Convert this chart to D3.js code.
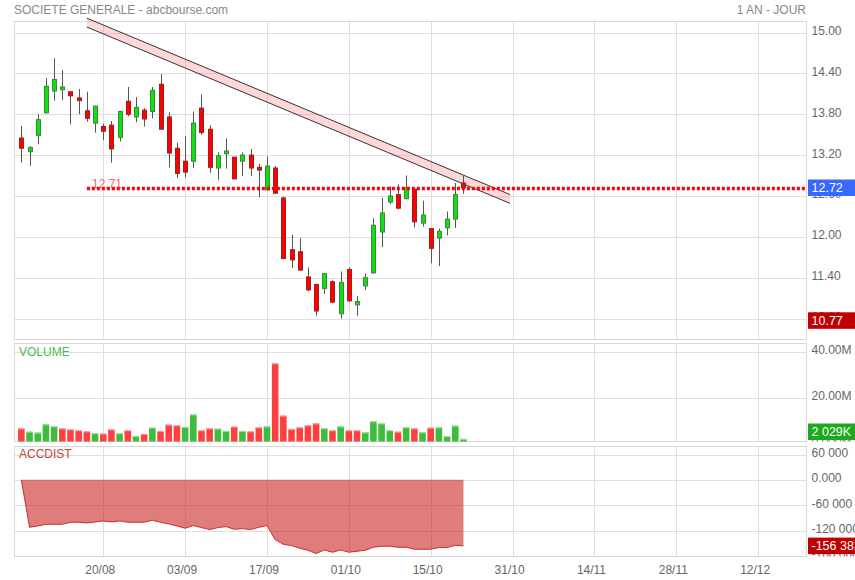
<!DOCTYPE html>
<html><head><meta charset="utf-8">
<script src="https://cdn.jsdelivr.net/npm/d3@7"></script>
<style>body{margin:0;background:#fff;} svg{display:block;font-family:"Liberation Sans",Arial,sans-serif;}</style>
</head><body><svg id="c" width="855" height="580"></svg>
<script>
// ---- data ----
const openP  = [13.45,13.25,13.49,13.82,14.14,14.16,14.13,14.04,13.85,13.67,13.62,13.64,13.46,13.99,13.76,13.86,13.84,14.24,13.76,13.30,13.11,13.11,13.89,13.58,13.01,13.22,13.17,13.11,13.20,13.02,12.69,13.01,12.57,11.81,11.78,11.41,11.30,11.24,11.34,10.87,11.52,11.00,11.28,11.47,12.07,12.51,12.62,12.56,12.70,12.20,12.12,11.98,12.13,12.26,12.79];
const highP  = [13.63,13.33,13.80,14.33,14.62,14.45,14.13,14.17,14.13,13.92,13.66,13.70,13.85,14.20,14.05,13.89,14.20,14.39,13.83,13.38,13.48,13.84,14.09,13.64,13.24,13.44,13.17,13.24,13.29,13.07,13.18,13.04,12.59,12.03,11.98,11.55,11.31,11.46,11.36,11.49,11.55,11.13,11.46,12.27,12.57,12.74,12.77,12.90,12.70,12.53,12.12,12.12,12.37,12.79,12.90];
const lowP   = [13.09,13.04,13.36,13.81,14.00,14.01,13.65,13.80,13.69,13.53,13.42,13.09,13.40,13.77,13.68,13.62,13.74,13.58,13.02,12.86,12.87,13.01,13.50,12.94,12.83,13.00,12.85,12.89,12.89,12.58,12.68,12.63,11.68,11.54,11.51,11.20,10.84,11.16,11.03,10.80,11.04,10.84,11.22,11.46,11.85,12.48,12.40,12.55,12.14,12.15,11.61,11.57,12.02,12.13,12.63];
const closeP = [13.30,13.31,13.72,14.21,14.31,14.20,14.07,14.00,13.74,13.92,13.55,13.29,13.84,13.80,13.90,13.73,14.15,13.58,13.23,12.93,12.95,13.67,13.53,13.02,13.19,13.26,12.85,13.20,13.01,12.98,13.04,12.64,11.68,11.66,11.51,11.22,10.91,11.46,11.04,11.33,11.06,11.05,11.40,12.17,12.35,12.60,12.42,12.72,12.22,12.32,11.83,12.08,12.26,12.62,12.72];
const volumeM = [6.65,5.2,4.8,8.4,7.5,6.65,6.2,5.8,5.35,4.5,4.35,6.2,4.5,5.8,3.3,4.2,6.95,5.5,8.25,7.95,7.2,12.7,5.8,6.65,6.5,5.5,7.4,5.5,5.35,7.1,7.5,34.9,12.2,6.35,7.1,7.95,8.8,6.65,5.8,7.5,5.8,5.8,4.9,9.7,8.8,5.8,5.2,7.1,6.65,4.9,6.95,7.1,3.2,7.8,2.029];
const accDist = [0,-112400,-109200,-105300,-105300,-105300,-100500,-100500,-102100,-99800,-97400,-99800,-97400,-100500,-100500,-100500,-95800,-100500,-104500,-109200,-114700,-108400,-113100,-117900,-113100,-110800,-117100,-115500,-117900,-112400,-108400,-141600,-152700,-155800,-162100,-166800,-174700,-166000,-171500,-166000,-171500,-169100,-166800,-159700,-157300,-157300,-159700,-159700,-164400,-164400,-164400,-160500,-160500,-155000,-156382];
const xTickIdx = [10,20,30,40,50,60,70,80,90];
const xTickLabels = ["20/08","03/09","17/09","01/10","15/10","31/10","14/11","28/11","12/12"];
const priceTicks = [10.8,11.4,12.0,12.6,13.2,13.8,14.4,15.0];
const volTicks = [0,20,40];
const adTicks = [-180000,-120000,-60000,0,60000];
const title = "SOCIETE GENERALE - abcbourse.com";
const period = "1 AN - JOUR";
const refLevel = 12.71, refStartIdx = 8;
const lastPrice = 12.72, minPrice = 10.77;
const trendUpper = [[8, 15.21],[59.7, 12.62]];
const trendWidth = 0.13;

// ---- layout ----
const svg = d3.select("#c");
const X0 = 14, X1 = 806.5;
const P1 = {t:21.5, b:339.5}, P2 = {t:343.5, b:441.5}, P3 = {t:446.5, b:556.5};
const x = d3.scaleLinear().domain([-0.9, 95.9]).range([X0, X1]);
const y = d3.scaleLinear().domain([10.8, 15]).range([318.5, 32.5]);
const yv = d3.scaleLinear().domain([0, 40]).range([443.5, 351.5]);
const ya = d3.scaleLinear().domain([-120000, 60000]).range([530.5, 454.5]);
const grid = "#dedede", txt = "#666", FS = 12;
const defs = svg.append("defs");
[["cp1",P1],["cp2",P2],["cp3",P3]].forEach(([id,p])=>{
  defs.append("clipPath").attr("id",id).append("rect").attr("x",X0).attr("y",p.t).attr("width",X1-X0).attr("height",p.b-p.t);
  defs.append("clipPath").attr("id",id+"a").append("rect").attr("x",X1).attr("y",p.t-3).attr("width",60).attr("height",p.b-p.t+3);
});
const px = v => Math.round(v)+0.5;

function panel(p, scale, ticks, fmt, cp){
  const g = svg.append("g");
  g.selectAll(".h").data(ticks.filter(t=>scale(t)>p.t+1 && scale(t)<p.b-1)).enter().append("line")
    .attr("x1",X0).attr("x2",X1).attr("y1",d=>px(scale(d))).attr("y2",d=>px(scale(d))).attr("stroke",grid);
  g.selectAll(".v").data(xTickIdx).enter().append("line")
    .attr("x1",d=>px(x(d))).attr("x2",d=>px(x(d))).attr("y1",p.t).attr("y2",p.b).attr("stroke",grid);
  g.append("rect").attr("x",X0+0.5).attr("y",p.t).attr("width",X1-X0-0.5).attr("height",p.b-p.t)
    .attr("fill","none").attr("stroke","#d8d8d8");
  svg.append("g").attr("clip-path",`url(#${cp}a)`).selectAll("text").data(ticks).enter().append("text")
    .attr("x",811.5).attr("y",d=>scale(d)+2.5).attr("font-size",FS).attr("fill",txt).text(fmt);
}
const loc = d3.formatLocale({decimal:".",thousands:" ",grouping:[3],currency:["",""],minus:"-"});
panel(P1, y, priceTicks, d3.format(".2f"), "cp1");
panel(P2, yv, volTicks, d=>d===0 ? "0.000M" : d3.format(".2f")(d)+"M", "cp2");
panel(P3, ya, adTicks, d=> d===0 ? "0.000" : loc.format(",d")(d), "cp3");

// ---- header ----
svg.append("text").attr("x",14).attr("y",13.5).attr("font-size",FS).attr("fill","#888").text(title);
svg.append("text").attr("x",806).attr("y",13.5).attr("font-size",FS).attr("fill","#888").attr("text-anchor","end").text(period);

// ---- trend channel ----
const gT = svg.append("g");
const tU = trendUpper.map(([i,p])=>[x(i),y(p)]);
const tL = trendUpper.map(([i,p])=>[x(i),y(p-trendWidth)]);
gT.append("path").attr("d",d3.line()([tU[0],tU[1],tL[1],tL[0]])+"Z").attr("fill","rgba(255,110,110,0.28)");
[tU,tL].forEach(l=>gT.append("path").attr("d",d3.line()(l)).attr("stroke","#333").attr("stroke-width",1).attr("fill","none"));

// ---- candles ----
const idx = d3.range(openP.length);
const gC = svg.append("g").attr("clip-path","url(#cp1)");
idx.forEach(i=>{
  const cx = px(x(i));
  const up = closeP[i] >= openP[i];
  gC.append("line").attr("x1",cx).attr("x2",cx).attr("y1",y(highP[i])).attr("y2",y(lowP[i])).attr("stroke","#555");
  const yt = y(Math.max(openP[i],closeP[i])), yb = y(Math.min(openP[i],closeP[i]));
  gC.append("rect").attr("x",cx-2).attr("width",4).attr("y",yt).attr("height",Math.max(1.5,yb-yt))
    .attr("fill", up ? "#10e010" : "#ff0000").attr("stroke", up ? "#3b8a3b" : "#a02020").attr("stroke-width",1);
});

// ---- reference dotted line ----
svg.append("line").attr("x1",x(refStartIdx)).attr("x2",X1-1).attr("y1",y(refLevel)).attr("y2",y(refLevel))
  .attr("stroke","#ff0000").attr("stroke-width",3.5).attr("stroke-dasharray","3,2");
svg.append("text").attr("x",92).attr("y",y(refLevel)-0.5).attr("font-size",FS).attr("fill","rgba(255,40,40,0.75)").text(refLevel.toFixed(2));

// ---- volume ----
const gV = svg.append("g").attr("clip-path","url(#cp2)");
idx.forEach(i=>{
  const up = i>0 && closeP[i] >= closeP[i-1];
  const col = up ? "#3cbd3c" : "#ff4040";
  const cx = x(i);
  gV.append("rect").attr("x",cx-3.3).attr("width",6.6).attr("y",yv(volumeM[i])).attr("height",yv(0)-yv(volumeM[i]))
    .attr("fill",col);
  gV.append("rect").attr("x",cx-3.3).attr("width",6.6).attr("y",yv(volumeM[i])).attr("height",1.2)
    .attr("fill","rgba(255,255,255,0.45)");
});

// ---- accdist ----
const gA = svg.append("g").attr("clip-path","url(#cp3)");
gA.append("path").attr("d", d3.area().x(i=>x(i)).y0(ya(0)).y1(i=>ya(accDist[i]))(idx))
  .attr("fill","rgba(200,30,30,0.58)");
gA.append("path").attr("d", d3.line().x(i=>x(i)).y(i=>ya(accDist[i]))(idx))
  .attr("fill","none").attr("stroke","#d02a2a").attr("stroke-width",1);

// panel titles
svg.append("text").attr("x",19).attr("y",356).attr("font-size",FS).attr("fill","#4cbb4c").text("VOLUME");
svg.append("text").attr("x",19).attr("y",458).attr("font-size",FS).attr("fill","#d03a3a").text("ACCDIST");

// ---- x axis labels ----
svg.append("g").selectAll("text").data(xTickIdx).enter().append("text")
  .attr("x",(d)=>x(d)-3).attr("y",573.5).attr("text-anchor","middle").attr("font-size",FS).attr("fill",txt)
  .text((d,i)=>xTickLabels[i]);

// ---- value boxes ----
function box(yc, label, color, p){
  const h = 16.5;
  let top = yc - h/2;
  if (p) top = Math.min(Math.max(top, p.t), p.b - 1.5 - h);
  svg.append("rect").attr("x",808).attr("y",top).attr("width",47).attr("height",h).attr("fill",color);
  svg.append("text").attr("x",811.5).attr("y",top+12.5).attr("font-size",12.5).attr("fill","#fff").text(label);
}
box(y(lastPrice), lastPrice.toFixed(2), "#3769ff");
box(y(minPrice), minPrice.toFixed(2), "#c00000", P1);
box(yv(volumeM[volumeM.length-1]), loc.format(",d")(Math.round(volumeM[volumeM.length-1]*1000))+"K", "#1ea81e", P2);
box(ya(accDist[accDist.length-1]), loc.format(",d")(accDist[accDist.length-1]), "#c00000", P3);
</script></body></html>
